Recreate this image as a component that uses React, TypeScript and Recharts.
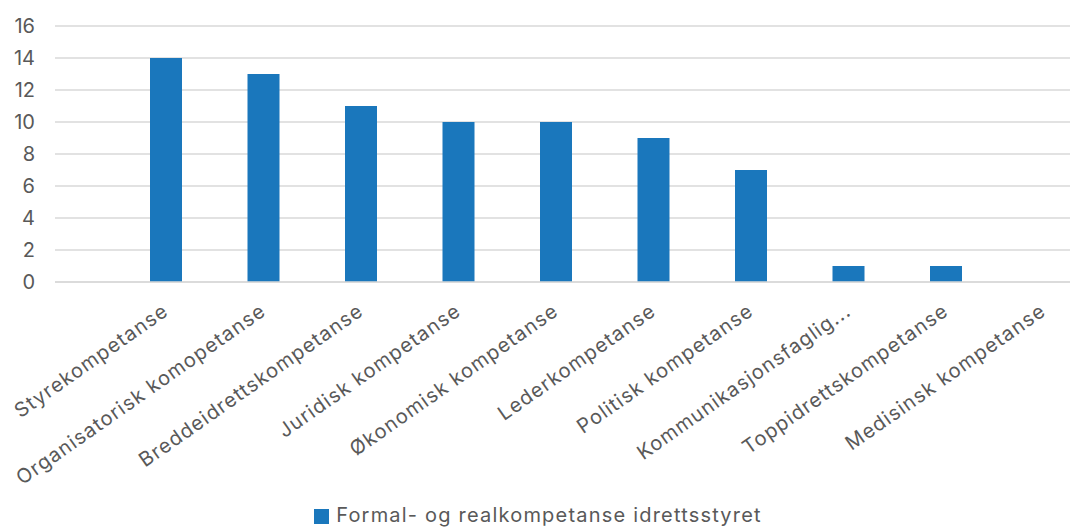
import { Bar, BarChart, CartesianGrid, Legend, XAxis, YAxis } from "recharts";

const categories = [
  "Styrekompetanse",
  "Organisatorisk komopetanse",
  "Breddeidrettskompetanse",
  "Juridisk kompetanse",
  "Økonomisk kompetanse",
  "Lederkompetanse",
  "Politisk kompetanse",
  "Kommunikasjonsfaglig...",
  "Toppidrettskompetanse",
  "Medisinsk kompetanse",
];
const values = [14, 13, 11, 10, 10, 9, 7, 1, 1, 0];
const yTicks = [0, 2, 4, 6, 8, 10, 12, 14, 16];
const seriesName = "Formal- og realkompetanse idrettsstyret";

const data = categories.map((name, i) => ({ name, value: values[i] }));

const FONT = "Inter, 'Noto Sans', sans-serif";
const TEXT = "#595959";

const AngledTick = ({ x, y, payload }: any) => (
  <text
    x={x + 4}
    y={y + 24}
    transform={`rotate(-35, ${x + 4}, ${y + 24})`}
    textAnchor="end"
    fill={TEXT}
    fontSize={20}
    letterSpacing={1.1}
    fontFamily={FONT}
  >
    {payload.value}
  </text>
);

export default function App() {
  return (
    <BarChart
      width={1070}
      height={519}
      data={data}
      margin={{ top: 18, right: 0, bottom: 0, left: 0 }}
    >
      <CartesianGrid vertical={false} stroke="#d9d9d9" strokeWidth={1.5} />
      <XAxis
        dataKey="name"
        interval={0}
        height={221}
        tick={<AngledTick />}
        tickLine={false}
        axisLine={{ stroke: "#d9d9d9", strokeWidth: 1.5 }}
        padding={{ left: 62, right: -14 }}
      />
      <YAxis
        width={47}
        domain={[0, 16]}
        ticks={yTicks}
        axisLine={false}
        tickLine={false}
        tickSize={0}
        tickMargin={20}
        tick={{ fill: TEXT, fontSize: 20, fontFamily: FONT }}
      />
      <Legend
        verticalAlign="bottom"
        iconType="square"
        iconSize={15}
        wrapperStyle={{ fontFamily: FONT, fontSize: 20 }}
        formatter={(v) => (
          <span style={{ color: TEXT, letterSpacing: 1.2, paddingLeft: 3 }}>{v}</span>
        )}
      />
      <Bar
        dataKey="value"
        name={seriesName}
        fill="#1a77bc"
        barSize={32}
        isAnimationActive={false}
      />
    </BarChart>
  );
}
